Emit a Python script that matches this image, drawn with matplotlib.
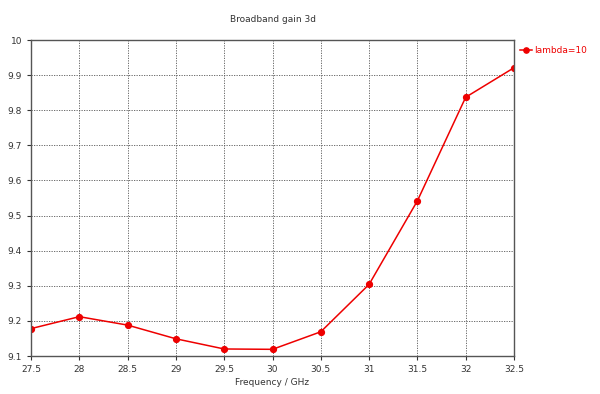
import matplotlib.pyplot as plt

# Broadband gain vs frequency
freq_ghz = [27.5, 28, 28.5, 29, 29.5, 30, 30.5, 31, 31.5, 32, 32.5]
gain = [9.178, 9.212, 9.188, 9.149, 9.120, 9.119, 9.169, 9.304, 9.542, 9.837, 9.921]
series_label = "lambda=10"

x_ticks = [27.5, 28, 28.5, 29, 29.5, 30, 30.5, 31, 31.5, 32, 32.5]
x_tick_labels = ["27.5", "28", "28.5", "29", "29.5", "30", "30.5", "31", "31.5", "32", "32.5"]
y_ticks = [9.1, 9.2, 9.3, 9.4, 9.5, 9.6, 9.7, 9.8, 9.9, 10]
y_tick_labels = ["9.1", "9.2", "9.3", "9.4", "9.5", "9.6", "9.7", "9.8", "9.9", "10"]

fig = plt.figure(figsize=(6.0, 3.94), dpi=100)
ax = fig.add_axes([31 / 600, 38 / 394, 483 / 600, 316 / 394])

red = "#ee0000"
ax.plot(freq_ghz, gain, color=red, lw=1.1, marker="o", ms=4.2, label=series_label)

ax.set_xlim(27.5, 32.5)
ax.set_ylim(9.1, 10)
ax.set_xticks(x_ticks)
ax.set_xticklabels(x_tick_labels)
ax.set_yticks(y_ticks)
ax.set_yticklabels(y_tick_labels)
ax.tick_params(labelsize=6.5, colors="#333333", length=3, width=0.8, direction="out")

ax.grid(True, color="#555555", linestyle=(0, (1.5, 1.5)), lw=0.6)
for s in ax.spines.values():
    s.set_color("#555555")
    s.set_linewidth(1.0)

ax.set_title("Broadband gain 3d", fontsize=6.5, color="#333333", pad=13)
ax.set_xlabel("Frequency / GHz", fontsize=6.5, color="#333333", labelpad=3)

leg = ax.legend(loc="upper left", bbox_to_anchor=(1.0, 1.0), frameon=False,
                fontsize=6.5, handlelength=1.3, handletextpad=0.2, borderaxespad=0.3,
                markerscale=0.9)
for t in leg.get_texts():
    t.set_color(red)

fig.savefig("out.png", dpi=100)
